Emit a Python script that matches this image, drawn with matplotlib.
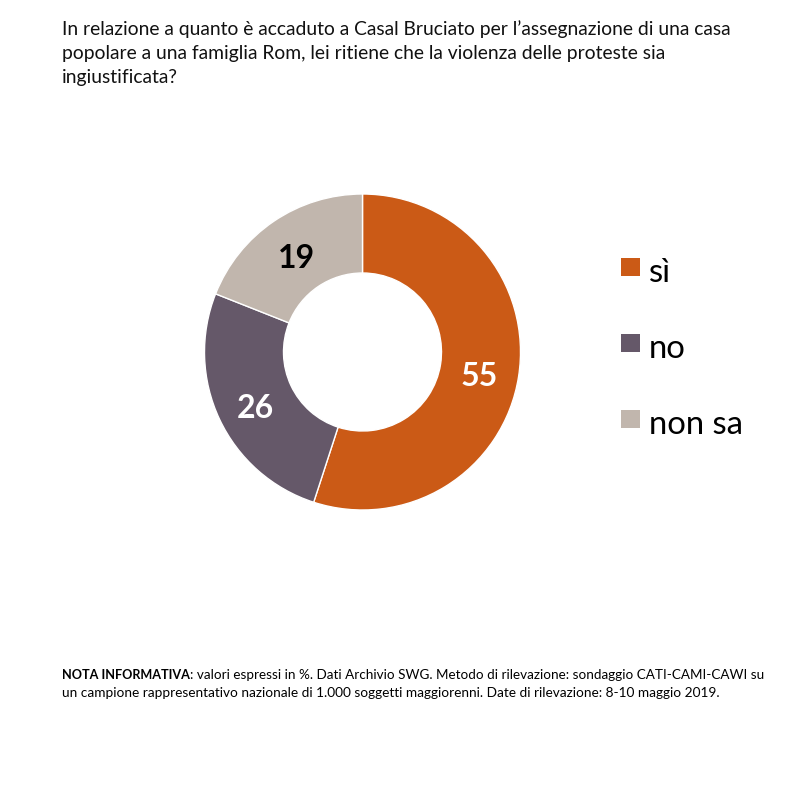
import matplotlib
matplotlib.use("Agg")
import matplotlib.pyplot as plt
from matplotlib.patches import Rectangle

plt.rcParams['font.family'] = ['Lato', 'DejaVu Sans']

labels = ["sì", "no", "non sa"]
values = [55, 26, 19]
colors = ["#CB5A16", "#655869", "#C1B6AD"]
value_colors = ["white", "white", "black"]

title_lines = [
    "In relazione a quanto è accaduto a Casal Bruciato per l’assegnazione di una casa",
    "popolare a una famiglia Rom, lei ritiene che la violenza delle proteste sia",
    "ingiustificata?",
]
note_bold = "NOTA INFORMATIVA"
note_lines = [
    ": valori espressi in %. Dati Archivio SWG. Metodo di rilevazione: sondaggio CATI-CAMI-CAWI su",
    "un campione rappresentativo nazionale di 1.000 soggetti maggiorenni. Date di rilevazione: 8-10 maggio 2019.",
]

fig = plt.figure(figsize=(8, 8), dpi=100, facecolor="white")

# donut, centre at about (362.5, 352) px
R_PX = 158
ax = fig.add_axes([(362.5 - R_PX) / 800, 1 - (352 + R_PX) / 800, 2 * R_PX / 800, 2 * R_PX / 800])
wedges, _ = ax.pie(values, colors=colors, startangle=90, counterclock=False, radius=1,
                   wedgeprops=dict(width=0.5, edgecolor="white", linewidth=1))
ax.set_xlim(-1, 1)
ax.set_ylim(-1, 1)
ax.set_aspect("equal")

# value labels
label_pos = [(479, 376), (255, 408), (296, 259)]
for v, c, (px, py) in zip(values, value_colors, label_pos):
    fig.text(px / 800, 1 - py / 800, str(v), color=c, fontsize=23, fontweight="bold",
             ha="center", va="center")

# legend by hand
legend_y = [267, 343, 419]
for lab, c, y in zip(labels, colors, legend_y):
    fig.add_artist(Rectangle((621 / 800, 1 - (y + 9) / 800), 18.5 / 800, 18.5 / 800,
                             transform=fig.transFigure, facecolor=c, edgecolor="none"))
    fig.text(649 / 800, 1 - (y + 15) / 800, lab, fontsize=23.6, color="black", ha="left", va="baseline")

# title
for line, y in zip(title_lines, [35.5, 59.5, 83.5]):
    fig.text(62 / 800, 1 - y / 800, line, fontsize=13.85, color="#111111", ha="left", va="baseline")

# footnote
renderer = fig.canvas.get_renderer()
b = fig.text(62 / 800, 1 - 679 / 800, note_bold, fontsize=9.05, fontweight="bold", color="black",
             ha="left", va="baseline")
bw = b.get_window_extent(renderer).width
fig.text(62 / 800 + bw / 800, 1 - 679 / 800, note_lines[0], fontsize=9.7, color="black",
         ha="left", va="baseline")
fig.text(62 / 800, 1 - 697 / 800, note_lines[1], fontsize=9.8, color="black", ha="left", va="baseline")

fig.savefig("out.png", dpi=100)
